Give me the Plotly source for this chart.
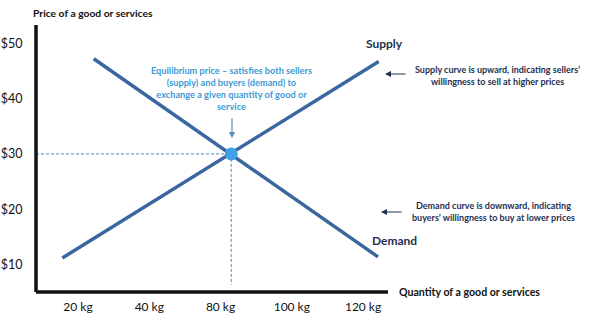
import plotly.graph_objects as go

# Categorical quantity ticks placed at positions 1..5
qty_labels = ["20 kg", "40 kg", "80 kg", "100 kg", "120 kg"]
qty_pos = [1, 2, 3, 4, 5]
price_ticks = [10, 20, 30, 40, 50]
price_labels = ["$10", "$20", "$30", "$40", "$50"]

# Curve endpoints (quantity position, price)
supply_x = [0.78, 5.22]
supply_y = [11.2, 46.7]
demand_x = [1.22, 5.21]
demand_y = [47.2, 11.4]

# Equilibrium
eq_x = 3.15
eq_y = 30

X_MIN, X_MAX = 0.41, 5.35
Y_MIN, Y_MAX = 5.05, 53.3

LINE = "#3a67a0"
LIGHT = "#3d9ad6"
NAVY = "#1e2f52"
FONT = "Lato"

fig = go.Figure()

# Dashed guides to the equilibrium point
fig.add_trace(go.Scatter(x=[X_MIN, eq_x], y=[eq_y, eq_y], mode="lines",
                         line=dict(color="#4a8fc0", width=1, dash="3px,2px"),
                         hoverinfo="skip"))
fig.add_trace(go.Scatter(x=[eq_x, eq_x], y=[eq_y, 6.4], mode="lines",
                         line=dict(color="#4a8fc0", width=1, dash="3px,2px"),
                         hoverinfo="skip"))

fig.add_trace(go.Scatter(x=supply_x, y=supply_y, mode="lines",
                         line=dict(color=LINE, width=3.5), name="Supply"))
fig.add_trace(go.Scatter(x=demand_x, y=demand_y, mode="lines",
                         line=dict(color=LINE, width=3.5), name="Demand"))
fig.add_trace(go.Scatter(x=[eq_x], y=[eq_y], mode="markers",
                         marker=dict(color="#3fa2e8", size=13), name="Equilibrium"))


def px_to_paper(px, py):
    return (px - 36) / 352, (292 - py) / 267


annotations = []


def text(px, py, s, size, color, xanchor="center", yanchor="middle", align="center"):
    x, y = px_to_paper(px, py)
    annotations.append(dict(x=x, y=y, xref="paper", yref="paper", text=s,
                            showarrow=False, xanchor=xanchor, yanchor=yanchor,
                            align=align, font=dict(family=FONT, size=size, color=color)))


def arrow(tx, ty, ax, ay, color, width=1.2):
    x, y = px_to_paper(tx, ty)
    annotations.append(dict(x=x, y=y, xref="paper", yref="paper", text="",
                            showarrow=True, arrowhead=2, arrowsize=1, arrowwidth=width,
                            arrowcolor=color, ax=ax, ay=ay))


text(31, 13, "<b>Price of a good or services</b>", 10.3, "#111111", xanchor="left")
text(384, 44, "<b>Supply</b>", 12, NAVY)
text(394, 240, "<b>Demand</b>", 12, NAVY)
text(232, 88,
     "<b>Equilibrium price – satisfies both sellers<br>(supply) and buyers (demand) to<br>"
     "exchange a given quantity of good or<br>service</b>", 9.2, LIGHT)
text(497, 75, "<b>Supply curve is upward, indicating sellers’<br>willingness to sell at higher prices</b>",
     9, NAVY)
text(494, 212, "<b>Demand curve is downward, indicating<br>buyers’ willingness to buy at lower prices</b>",
     9, NAVY)
text(397, 292, "<b>Quantity of a good or services</b>", 10.6, "#111111", xanchor="left")

arrow(232, 138, 0, -21, "#4a8fc0", 1.2)
arrow(385, 74, 22, 0, NAVY, 1.2)
arrow(381, 212, 22, 0, NAVY, 1.2)

# Axis lines
shapes = [
    dict(type="line", xref="paper", yref="paper", x0=0, x1=0, y0=0, y1=1,
         line=dict(color="#111111", width=3.5)),
    dict(type="line", xref="paper", yref="paper", x0=0, x1=1, y0=0, y1=0,
         line=dict(color="#111111", width=3.5)),
]

fig.update_layout(
    width=600, height=323,
    margin=dict(l=36, r=212, t=25, b=31),
    paper_bgcolor="white", plot_bgcolor="white",
    showlegend=False,
    annotations=annotations,
    shapes=shapes,
    font=dict(family=FONT, size=12, color="#111111"),
    xaxis=dict(range=[X_MIN, X_MAX], tickvals=qty_pos, ticktext=qty_labels,
               showgrid=False, zeroline=False, showline=False, automargin=False,
               ticks="outside", ticklen=4, tickcolor="rgba(0,0,0,0)",
               tickfont=dict(family=FONT, size=12, color="#111111")),
    yaxis=dict(range=[Y_MIN, Y_MAX], tickvals=price_ticks, ticktext=price_labels,
               showgrid=False, zeroline=False, showline=False, automargin=False,
               ticks="outside", ticklen=10, tickcolor="rgba(0,0,0,0)",
               tickfont=dict(family=FONT, size=12.5, color="#111111")),
)

fig.write_html("out.html")
